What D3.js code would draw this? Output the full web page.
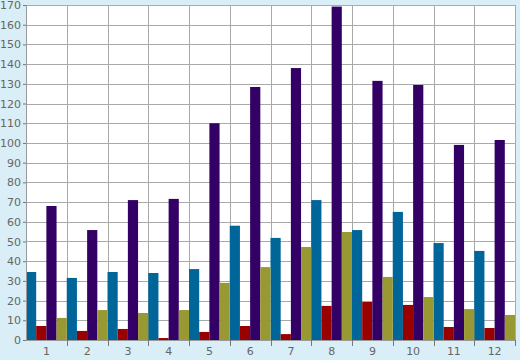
<!DOCTYPE html>
<html>
<head>
<meta charset="utf-8">
<script src="https://cdn.jsdelivr.net/npm/d3@7"></script>
<style>
  html, body { margin: 0; padding: 0; background: #d9eef6; }
  #chart { width: 520px; height: 360px; }
  .axis text { font-family: "DejaVu Sans", Verdana, sans-serif; font-size: 11px; fill: #666; }
</style>
</head>
<body>
<div id="chart"></div>
<script>
const categories = ["1", "2", "3", "4", "5", "6", "7", "8", "9", "10", "11", "12"];
const seriesNames = ["blue", "red", "purple", "olive"];
const blueVals   = [34.5, 31.5, 34.5, 34, 36, 58, 51.8, 71, 55.8, 65, 49.2, 45.2];
const redVals    = [7.1, 4.6, 5.6, 1, 4.1, 7.1, 3, 17.3, 19.3, 17.8, 6.6, 6.1];
const purpleVals = [68, 55.8, 71, 71.6, 110, 128.4, 138, 169.2, 131.5, 129.4, 99, 101.5];
const oliveVals  = [11.2, 15.2, 13.7, 15.2, 29, 37, 47.2, 54.8, 32, 21.8, 15.7, 12.7];
const yTicks = d3.range(0, 171, 10);

const colors = { blue: "#006699", red: "#990000", purple: "#330066", olive: "#999933" };
const series = { blue: blueVals, red: redVals, purple: purpleVals, olive: oliveVals };

const margin = { top: 5, right: 5, bottom: 20, left: 26 };
const width = 520 - margin.left - margin.right;
const height = 360 - margin.top - margin.bottom;

const svg = d3.select("#chart").append("svg")
    .attr("width", 520)
    .attr("height", 360)
  .append("g")
    .attr("transform", `translate(${margin.left},${margin.top})`);

const x = d3.scaleBand().domain(categories).range([0, width]).padding(0);
const xi = d3.scaleBand().domain(seriesNames).range([0, x.bandwidth()]).padding(0);
const y = d3.scaleLinear().domain([0, 170]).range([height, 0]);

// plot background
svg.append("rect")
    .attr("width", width)
    .attr("height", height)
    .attr("fill", "#fff");

// horizontal grid
svg.append("g")
    .selectAll("line")
    .data(yTicks)
    .join("line")
    .attr("x1", 0).attr("x2", width)
    .attr("y1", d => Math.round(y(d)) + 0.5).attr("y2", d => Math.round(y(d)) + 0.5)
    .attr("stroke", "#aaa");

// vertical grid at group boundaries
svg.append("g")
    .selectAll("line")
    .data(categories)
    .join("line")
    .attr("x1", d => Math.round(x(d) + x.bandwidth()) + 0.5)
    .attr("x2", d => Math.round(x(d) + x.bandwidth()) + 0.5)
    .attr("y1", 0).attr("y2", height)
    .attr("stroke", "#aaa");

// bars
seriesNames.forEach(s => {
  svg.append("g")
    .selectAll("rect")
    .data(categories.map((c, i) => ({ c: c, v: series[s][i] })))
    .join("rect")
    .attr("x", d => x(d.c) + xi(s))
    .attr("y", d => y(d.v))
    .attr("width", xi.bandwidth())
    .attr("height", d => height - y(d.v))
    .attr("fill", colors[s]);
});

// y axis
const yAxis = svg.append("g")
    .attr("class", "axis")
    .call(d3.axisLeft(y).tickValues(yTicks).tickSize(3).tickPadding(2));
yAxis.select(".domain").attr("stroke", "#999");
yAxis.selectAll(".tick line").attr("stroke", "#777");

// x axis: labels centered, ticks at boundaries
const xAxis = svg.append("g")
    .attr("class", "axis")
    .attr("transform", `translate(0,${height})`)
    .call(d3.axisBottom(x).tickSize(0).tickPadding(7));
xAxis.select(".domain").attr("stroke", "#999");

svg.append("g")
    .attr("transform", `translate(0,${height})`)
    .selectAll("line")
    .data(categories)
    .join("line")
    .attr("x1", d => Math.round(x(d) + x.bandwidth()) + 0.5)
    .attr("x2", d => Math.round(x(d) + x.bandwidth()) + 0.5)
    .attr("y1", 0).attr("y2", 6)
    .attr("stroke", "#777");
</script>
</body>
</html>
